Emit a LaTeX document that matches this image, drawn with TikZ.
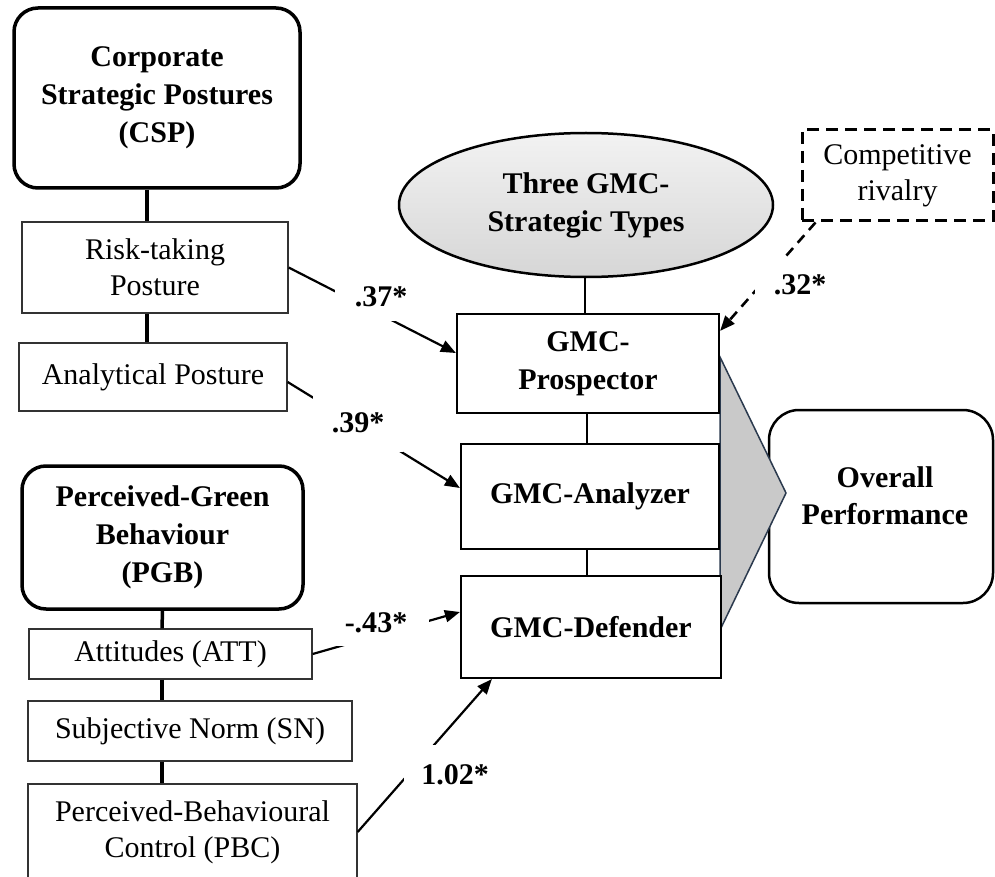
\documentclass[tikz,border=0pt]{standalone}
\usepackage{fontspec}
\setmainfont{Liberation Serif}
\usetikzlibrary{arrows.meta,shapes.geometric}
\definecolor{wedgefill}{HTML}{C9C9C9}
\definecolor{wedgeedge}{HTML}{2B3A4E}
\definecolor{ovaltop}{HTML}{F2F2F2}
\definecolor{ovalbottom}{HTML}{D6D6D6}
\begin{document}
\begin{tikzpicture}[x=1pt,y=-1pt,
  every node/.style={font=\fontsize{30}{36}\selectfont, align=center, inner sep=0pt},
  headbox/.style={draw, line width=3.5pt, rounded corners=24pt,
    font=\fontsize{30}{38}\selectfont\bfseries},
  itembox/.style={draw=black!80, line width=1.3pt},
  typebox/.style={draw, line width=2.2pt, font=\fontsize{30}{38}\selectfont\bfseries},
  heavylink/.style={line width=3.5pt},
  lightlink/.style={line width=2.2pt},
  effect/.style={line width=2.2pt, -{Triangle[length=15pt,width=12pt]}},
  moderation/.style={effect, line width=2.6pt, dash pattern=on 10pt off 7pt},
  coef/.style={fill=white, font=\fontsize{30}{36}\selectfont\bfseries},
]
\useasboundingbox (0,0) rectangle (995,877);

% Corporate strategic postures block
\node[headbox, minimum width=286pt, minimum height=180pt] (csp) at (157,98)
  {Corporate\\Strategic Postures\\(CSP)};
\node[itembox, minimum width=266pt, minimum height=91pt] (risk) at (155,267.5)
  {Risk-taking\\Posture};
\node[itembox, minimum width=268pt, minimum height=68pt] (anal) at (153,377)
  {Analytical Posture};
\draw[heavylink] ([xshift=-10pt]csp.south) -- ([xshift=-8pt]risk.north);
\draw[heavylink] ([xshift=-8pt]risk.south) -- ([xshift=-6pt]anal.north);

% Perceived green behaviour block
\node[headbox, minimum width=281pt, minimum height=143pt] (pgb) at (162.5,537.5)
  {Perceived-Green\\Behaviour\\(PGB)};
\node[itembox, minimum width=283pt, minimum height=50pt] (att) at (170.5,654)
  {Attitudes (ATT)};
\node[itembox, minimum width=324pt, minimum height=60pt] (sn) at (190,731)
  {Subjective Norm (SN)};
\node[itembox, minimum width=329pt, minimum height=96pt] (pbc) at (192.5,832)
  {Perceived-Behavioural\\Control (PBC)};
\draw[heavylink] (pgb.south) -- ([xshift=-8.5pt]att.north);
\draw[heavylink] ([xshift=-8.5pt]att.south) -- ([xshift=-28pt]sn.north);
\draw[heavylink] ([xshift=-28pt]sn.south) -- ([xshift=-30.5pt]pbc.north);

% Outcome box and the wedge leading into it
\node[draw, line width=2.5pt, rounded corners=30pt, minimum width=224pt,
  minimum height=193pt] (perf) at (881,506.5) {};
\node[font=\fontsize{30}{37}\selectfont\bfseries] (perftext) at (885,496)
  {Overall\\Performance};
\filldraw[fill=wedgefill, draw=wedgeedge, line width=1.5pt, line join=miter]
  (720,357) -- (786,493) -- (720,630) -- cycle;

% Strategic types
\node[draw, ellipse, line width=2.5pt, top color=ovaltop, bottom color=ovalbottom,
  minimum width=374pt, minimum height=144pt,
  font=\fontsize{30}{38}\selectfont\bfseries] (types) at (586,205)
  {Three GMC-\\Strategic Types};
\node[typebox, fill=white, minimum width=262pt, minimum height=99pt] (pros) at (588,363.5)
  {GMC-\\Prospector};
\node[typebox, fill=white, minimum width=258pt, minimum height=105pt] (anlz) at (590,496.5)
  {GMC-Analyzer};
\node[typebox, fill=white, minimum width=260pt, minimum height=102pt] (dfnd) at (591,627)
  {GMC-Defender};
\draw[lightlink] ([xshift=-1pt]types.south) -- ([xshift=-3pt]pros.north);
\draw[lightlink] ([xshift=-1pt]pros.south) -- ([xshift=-3pt]anlz.north);
\draw[lightlink] ([xshift=-3pt]anlz.south) -- ([xshift=-4pt]dfnd.north);

% Moderator
\node[draw, line width=3pt, dash pattern=on 12pt off 7pt, minimum width=191pt,
  minimum height=91pt] (rival) at (897.5,175.5) {Competitive\\rivalry};

% Path coefficients
\draw[effect] (risk.east) -- ([yshift=10.5pt]pros.west);
\draw[effect] ([yshift=-5pt]anal.east) -- ([yshift=8.5pt]anlz.west);
\draw[effect] (att.east) -- ([yshift=15pt]dfnd.west);
\draw[effect] (pbc.east) -- ([xshift=32pt]dfnd.south west);
\draw[moderation] ([xshift=15pt]rival.south west) -- ([yshift=-18pt]pros.north east);

\node[coef, minimum width=92pt, minimum height=48pt] (c37) at (381,297) {.37*};
\node[coef, minimum width=90pt, minimum height=58pt] (c39) at (358,423) {.39*};
\node[coef, minimum width=106pt, minimum height=46pt] (c43) at (376,623) {-.43*};
\node[coef, minimum width=102pt, minimum height=60pt] (c102) at (455,775) {1.02*};
\node[coef, minimum width=90pt, minimum height=56pt] (c32) at (800,285) {.32*};
\end{tikzpicture}
\end{document}
